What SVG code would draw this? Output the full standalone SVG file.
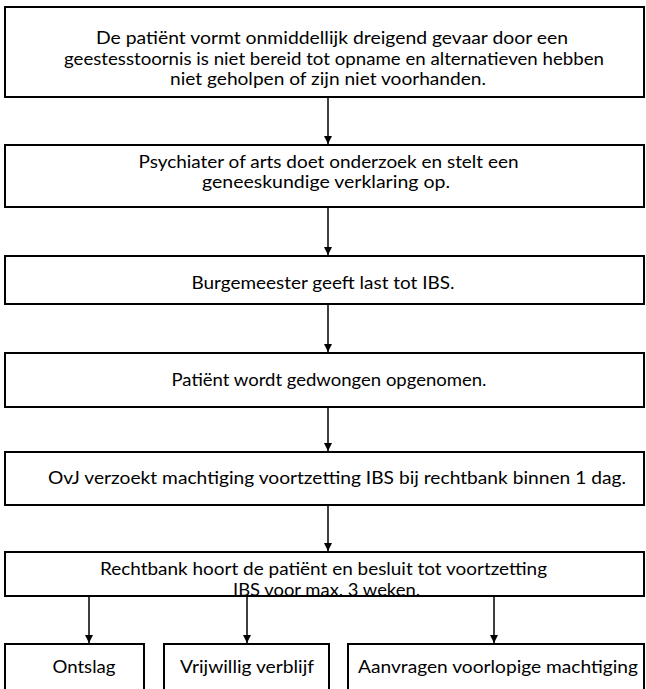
<svg xmlns="http://www.w3.org/2000/svg" width="646" height="689" viewBox="0 0 646 689">
  <defs>
    <marker id="arrow" viewBox="0 0 10 10" refX="10" refY="5" markerWidth="8" markerHeight="9" markerUnits="userSpaceOnUse" orient="auto">
      <path d="M0,0 L10,5 L0,10 Z" fill="#000"/>
    </marker>
    <style>
      .box { fill: #fff; stroke: #000; stroke-width: 2; }
      .lbl { font-family: Lato, "Open Sans", "Liberation Sans", sans-serif; font-size: 17px; fill: #000; text-anchor: middle; }
      .conn { stroke: #000; stroke-width: 1.5; fill: none; marker-end: url(#arrow); }
    </style>
  </defs>
  <rect width="646" height="689" fill="#fff"/>

  <g id="conditions">
    <rect class="box" x="5" y="7" width="639" height="90"/>
    <text class="lbl" x="332" y="44" textLength="472" lengthAdjust="spacingAndGlyphs">De patiënt vormt onmiddellijk dreigend gevaar door een</text>
    <text class="lbl" x="334" y="64.5" textLength="540" lengthAdjust="spacingAndGlyphs">geestesstoornis is niet bereid tot opname en alternatieven hebben</text>
    <text class="lbl" x="328" y="85" textLength="316" lengthAdjust="spacingAndGlyphs">niet geholpen of zijn niet voorhanden.</text>
  </g>

  <g id="examination">
    <rect class="box" x="5" y="145" width="639" height="62"/>
    <text class="lbl" x="328.5" y="167.5" textLength="380" lengthAdjust="spacingAndGlyphs">Psychiater of arts doet onderzoek en stelt een</text>
    <text class="lbl" x="326" y="188" textLength="248" lengthAdjust="spacingAndGlyphs">geneeskundige verklaring op.</text>
  </g>

  <g id="mayor">
    <rect class="box" x="5" y="256" width="639" height="48"/>
    <text class="lbl" x="323" y="288.5" textLength="263" lengthAdjust="spacingAndGlyphs">Burgemeester geeft last tot IBS.</text>
  </g>

  <g id="admission">
    <rect class="box" x="5" y="353" width="639" height="54"/>
    <text class="lbl" x="329" y="385.5" textLength="315" lengthAdjust="spacingAndGlyphs">Patiënt wordt gedwongen opgenomen.</text>
  </g>

  <g id="request">
    <rect class="box" x="5" y="452" width="639" height="53"/>
    <text class="lbl" x="337" y="484" textLength="578" lengthAdjust="spacingAndGlyphs">OvJ verzoekt machtiging voortzetting IBS bij rechtbank binnen 1 dag.</text>
  </g>

  <g id="court">
    <rect class="box" x="5" y="552" width="639" height="44"/>
    <text class="lbl" x="323.5" y="575" textLength="447" lengthAdjust="spacingAndGlyphs">Rechtbank hoort de patiënt en besluit tot voortzetting</text>
    <text class="lbl" x="326.5" y="595.5" textLength="187" lengthAdjust="spacingAndGlyphs">IBS voor max. 3 weken.</text>
  </g>

  <g id="discharge">
    <rect class="box" x="5" y="644" width="139" height="60"/>
    <text class="lbl" x="84" y="673" textLength="63" lengthAdjust="spacingAndGlyphs">Ontslag</text>
  </g>

  <g id="voluntary">
    <rect class="box" x="164" y="644" width="165" height="60"/>
    <text class="lbl" x="247" y="673" textLength="134" lengthAdjust="spacingAndGlyphs">Vrijwillig verblijf</text>
  </g>

  <g id="provisional">
    <rect class="box" x="348" y="644" width="296" height="60"/>
    <text class="lbl" x="498" y="673" textLength="280" lengthAdjust="spacingAndGlyphs">Aanvragen voorlopige machtiging</text>
  </g>

  <g id="connectors">
    <line class="conn" x1="328" y1="98" x2="328" y2="144"/>
    <line class="conn" x1="328" y1="208" x2="328" y2="255"/>
    <line class="conn" x1="328" y1="305" x2="328" y2="352"/>
    <line class="conn" x1="328" y1="408" x2="328" y2="451"/>
    <line class="conn" x1="328" y1="506" x2="328" y2="551"/>
    <line class="conn" x1="89" y1="597" x2="89" y2="643"/>
    <line class="conn" x1="247" y1="597" x2="247" y2="643"/>
    <line class="conn" x1="494" y1="597" x2="494" y2="643"/>
  </g>
</svg>
